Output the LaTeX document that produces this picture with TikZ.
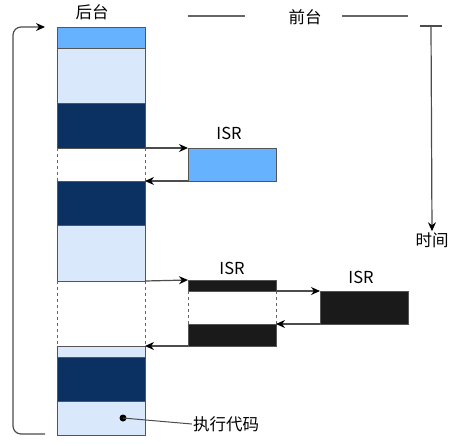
\documentclass[tikz,border=0pt]{standalone}
\usepackage{fontspec}
\setmainfont{Noto Sans CJK SC}
\usepackage{xcolor}
\usepackage{tikz}
\usetikzlibrary{positioning,arrows.meta}
\definecolor{isrblue}{HTML}{66B2FF}
\definecolor{paleblue}{HTML}{DAE8FC}
\definecolor{navy}{HTML}{0B3062}
\definecolor{isrblack}{HTML}{1A1A1A}
\definecolor{edge}{HTML}{555555}
\tikzset{seg/.style={rectangle,draw=edge,line width=1pt,minimum width=88pt,inner sep=0pt,outer sep=0pt},
         lbl/.style={font=\fontsize{16.5}{18}\selectfont,inner sep=1pt},
         link/.style={->,draw=black!70,line width=1.2pt},
         gapline/.style={dashed,draw=black!60,line width=0.7pt}}

\begin{document}
\begin{tikzpicture}[>={Stealth[length=9pt,width=8pt,color=black]},x=1pt,y=-1pt]
        \useasboundingbox (0,0) rectangle (455,445);

        \node[seg,fill=isrblue,minimum height=21pt] (b1) at (101,37.5) {};
        \node[seg,fill=paleblue,minimum height=55pt] (b2) at (101,75.5) {};
        \node[seg,fill=navy,minimum height=45pt] (b3) at (101,125.5) {};
        \node[seg,fill=navy,minimum height=44pt] (b4) at (101,203) {};
        \node[seg,fill=paleblue,minimum height=56pt] (b5) at (101,253) {};
        \node[seg,fill=paleblue,minimum height=11pt] (b6) at (101,351.5) {};
        \node[seg,fill=navy,minimum height=44pt] (b7) at (101,379) {};
        \node[seg,fill=paleblue,minimum height=34pt] (b8) at (101,418) {};

        \node[seg,fill=isrblue,minimum height=33pt] (isra) at (232,164.5) {};
        \node[seg,fill=isrblack,minimum height=11pt] (isrb) at (232,285.5) {};
        \node[seg,fill=isrblack,minimum height=22pt] (isrc) at (232,335) {};
        \node[seg,fill=isrblack,minimum height=33pt] (isrd) at (364,307.5) {};

        \node[lbl] (back) at (92,12) {后台};
        \node[lbl] (front) at (305,17) {前台};
        \node[lbl] (isr1) at (229,133) {ISR};
        \node[lbl] (isr2) at (232,268) {ISR};
        \node[lbl] (isr3) at (361,277) {ISR};
        \node[lbl] (time) at (432,240) {时间};
        \node[lbl] (exec) at (226,424) {执行代码};

        \draw [gapline] (b3.south west) -- (b4.north west);
        \draw [gapline] (b3.south east) -- (b4.north east);
        \draw [gapline] (b5.south west) -- (b6.north west);
        \draw [gapline] (b5.south east) -- (b6.north east);
        \draw [gapline] (isrb.south west) -- (isrc.north west);
        \draw [gapline] (isrb.south east) -- (isrc.north east);

        \draw [link] (b3.south east) -- (isra.north west);
        \draw [link] (isra.south west) -- (b4.north east);
        \draw [link] (b5.south east) -- (isrb.north west);
        \draw [link] (isrb.south east) -- (isrd.north west);
        \draw [link] (isrd.south west) -- (isrc.north east);
        \draw [link] (isrc.south west) -- (b6.north east);

        \coordinate (loopend) at (45,434);
        \coordinate (loopin) at (45,27);
        \draw [link,rounded corners=8pt] (loopend) -- (13,434) -- (13,27) -- (loopin);

        \coordinate (tstart) at (431,26);
        \draw [draw=black!70,line width=1.2pt] (420,26) -- (442,26);
        \draw [link] (tstart) -- (time.north);

        \draw [draw=black!60,line width=1.2pt] (188,16) -- (245,16);
        \draw [draw=black!60,line width=1.2pt] (342,16) -- (408,16);

        \coordinate (dot) at (123,418);
        \fill (dot) circle (3.5);
        \draw [draw=black!70,line width=1pt] (dot) -- (exec.west);

    \end{tikzpicture}
\end{document}
